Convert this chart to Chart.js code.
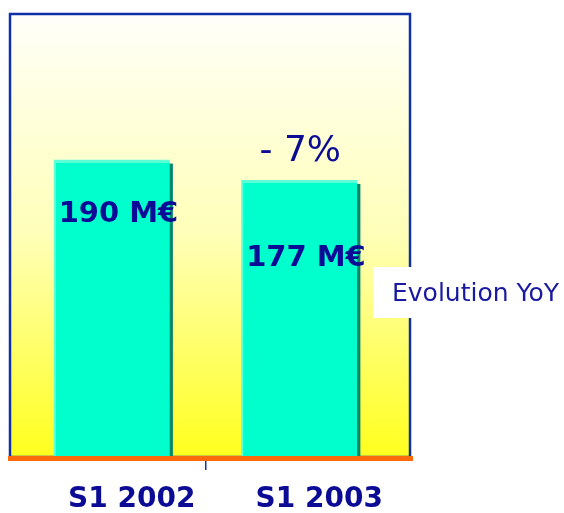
<!DOCTYPE html>
<html><head><meta charset="utf-8">
<script src="https://cdn.jsdelivr.net/npm/chart.js@4/dist/chart.umd.min.js"></script>
<style>html,body{margin:0;padding:0;background:#fff}canvas{display:block}</style>
</head><body>
<canvas id="c" width="564" height="513"></canvas>
<script>
const categories = ['S1 2002', 'S1 2003'];
const revenue = [190, 177];
const unitLabel = 'M€';
const boxText = 'Evolution YoY';
const yMin = 0, yMax = 283;

const NAVY = '#0B0B95';
const FONT = "'DejaVu Sans', sans-serif";
const labelDy = [55, 79];

const deco = {
  id: 'deco',
  beforeDraw(chart) {
    const c = chart.ctx;
    const L = 10, T = 14, R = 410, B = 457;
    const g = c.createLinearGradient(0, T, 0, B);
    g.addColorStop(0, '#FFFFFA');
    g.addColorStop(0.5, '#FFFFB8');
    g.addColorStop(1, '#FFFF1E');
    c.save();
    c.fillStyle = g;
    c.fillRect(L, T, R - L, B - T);
    c.strokeStyle = '#1030A8';
    c.lineWidth = 2.5;
    c.strokeRect(L, T, R - L, B - T);
    c.restore();
  },
  beforeDatasetsDraw(chart) {
    const c = chart.ctx;
    const meta = chart.getDatasetMeta(0);
    c.save();
    c.fillStyle = '#00866A';
    meta.data.forEach(b => {
      const r = b.x + b.width / 2;
      c.fillRect(r - 1, b.y + 4, 4, b.base - b.y - 4);
    });
    c.restore();
  },
  afterDatasetsDraw(chart) {
    const c = chart.ctx;
    const meta = chart.getDatasetMeta(0);
    c.save();
    c.fillStyle = '#FF6A0A';
    c.fillRect(8, 456, 405, 5);
    c.fillStyle = NAVY;
    c.font = 'bold 29px ' + FONT;
    c.textAlign = 'left';
    c.textBaseline = 'middle';
    meta.data.forEach((b, i) => {
      c.fillText(revenue[i] + ' ' + unitLabel, b.x - b.width / 2 + 5, b.y + labelDy[i]);
    });
    const pct = Math.round((revenue[1] - revenue[0]) / revenue[0] * 100);
    const b2 = meta.data[1];
    c.font = '36px ' + FONT;
    c.textAlign = 'center';
    c.fillText((pct < 0 ? '- ' : '+ ') + Math.abs(pct) + '%', b2.x + 1, b2.y - 28);
    c.restore();
  },
  afterDraw(chart) {
    const c = chart.ctx;
    c.save();
    c.fillStyle = '#FFFFFF';
    c.fillRect(373, 267, 191, 51);
    c.fillStyle = '#1A1AA0';
    c.font = '25px ' + FONT;
    c.textAlign = 'left';
    c.textBaseline = 'middle';
    c.fillText(boxText, 392, 294);
    c.restore();
  }
};

new Chart(document.getElementById('c'), {
  type: 'bar',
  data: {
    labels: categories,
    datasets: [{
      data: revenue,
      backgroundColor: '#00FFCC',
      borderColor: '#5CFFD8',
      borderWidth: {top: 3, left: 2, right: 0, bottom: 0},
      borderSkipped: false,
      barPercentage: 0.62,
      categoryPercentage: 1
    }]
  },
  options: {
    responsive: false,
    animation: false,
    devicePixelRatio: 1,
    layout: {padding: {left: 18, right: 171, top: 14, bottom: 0}},
    plugins: {legend: {display: false}, tooltip: {enabled: false}},
    scales: {
      y: {display: false, min: yMin, max: yMax},
      x: {
        offset: true,
        border: {display: false},
        grid: {
          offset: true,
          drawOnChartArea: false,
          drawTicks: true,
          tickLength: 13,
          lineWidth: 1.5,
          color: ctx => ctx.index === 1 ? '#1533A6' : 'rgba(0,0,0,0)'
        },
        ticks: {
          color: NAVY,
          font: {family: FONT, size: 28, weight: 'bold'},
          padding: 13,
          labelOffset: 20
        },
        afterFit(s) { s.height = 56; }
      }
    }
  },
  plugins: [deco]
});
</script>
</body></html>
